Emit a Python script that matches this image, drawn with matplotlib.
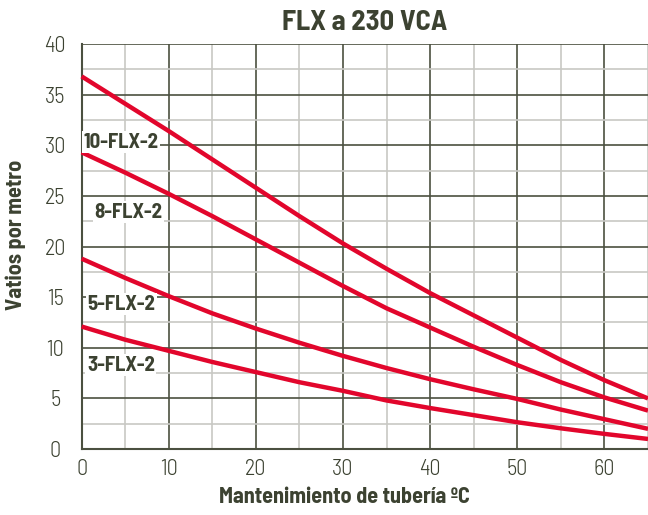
import matplotlib.pyplot as plt
from matplotlib.ticker import MultipleLocator

# Temperatura de mantenimiento (ºC)
temp = [0, 5, 10, 15, 20, 25, 30, 35, 40, 45, 50, 55, 60, 65]

# Vatios por metro
flx10 = [36.8, 34.1, 31.4, 28.6, 25.8, 23.0, 20.3, 17.8, 15.4, 13.2, 11.0, 8.8, 6.8, 5.0]
flx8 = [29.3, 27.3, 25.2, 23.0, 20.7, 18.4, 16.1, 13.9, 12.0, 10.1, 8.3, 6.6, 5.1, 3.8]
flx5 = [18.8, 16.9, 15.1, 13.4, 11.9, 10.5, 9.2, 8.0, 6.9, 5.9, 4.95, 3.9, 2.95, 2.0]
flx3 = [12.1, 10.8, 9.7, 8.6, 7.6, 6.6, 5.75, 4.8, 4.05, 3.35, 2.65, 2.05, 1.5, 1.0]

series = [flx10, flx8, flx5, flx3]
names = ['10-FLX-2', '8-FLX-2', '5-FLX-2', '3-FLX-2']
label_pos = [(0.2, 30.3), (1.5, 23.4), (0.7, 14.3), (0.6, 8.3)]

text_col = '#3c4231'
red = '#e2062c'
cond = ['Barlow Semi Condensed', 'DejaVu Sans']

fig = plt.figure(figsize=(6.48, 5.15), dpi=100)
ax = fig.add_axes([0.126, 0.128, 0.874, 0.7866])

for vals in series:
    ax.plot(temp, vals, color=red, linewidth=3.2, solid_capstyle='butt', zorder=3, clip_on=False)

for name, (x, y) in zip(names, label_pos):
    ax.text(x, y, name, fontsize=15, fontweight=700, family=cond, color=text_col,
            va='center', ha='left', zorder=4,
            bbox=dict(facecolor='white', edgecolor='none', pad=1.0))

ax.set_xlim(0, 65)
ax.set_ylim(0, 40)
ax.xaxis.set_major_locator(MultipleLocator(10))
ax.xaxis.set_minor_locator(MultipleLocator(5))
ax.yaxis.set_major_locator(MultipleLocator(5))
ax.yaxis.set_minor_locator(MultipleLocator(2.5))
ax.grid(True, which='major', color='#4b5040', linewidth=1.2, zorder=1)
ax.grid(True, which='minor', color='#c8c8c4', linewidth=1.2, zorder=0)
ax.set_axisbelow(True)
ax.tick_params(which='both', length=0, labelsize=16, labelcolor=text_col)
ax.tick_params(axis='x', pad=7)
ax.tick_params(axis='y', pad=19)
for lab in ax.get_xticklabels() + ax.get_yticklabels():
    lab.set_family(cond)
    lab.set_fontweight(300)
for lab in ax.get_yticklabels():
    lab.set_horizontalalignment('center')

for side in ['top', 'right']:
    ax.spines[side].set_visible(False)
for side in ['left', 'bottom']:
    ax.spines[side].set_color('#4b5040')
    ax.spines[side].set_linewidth(1.5)

ax.set_title('FLX a 230 VCA', fontsize=20.5, fontweight=700, family=cond,
             color=text_col, pad=10)
fig.text(344 / 648, 1 - 497 / 515, 'Mantenimiento de tubería ºC', fontsize=16,
         fontweight=700, family=cond, color=text_col, ha='center', va='center')
fig.text(16 / 648, 1 - 235 / 515, 'Vatios por metro', fontsize=16, rotation=90,
         fontweight=700, family=cond, color=text_col, ha='center', va='center')

fig.savefig('out.png', dpi=100)
